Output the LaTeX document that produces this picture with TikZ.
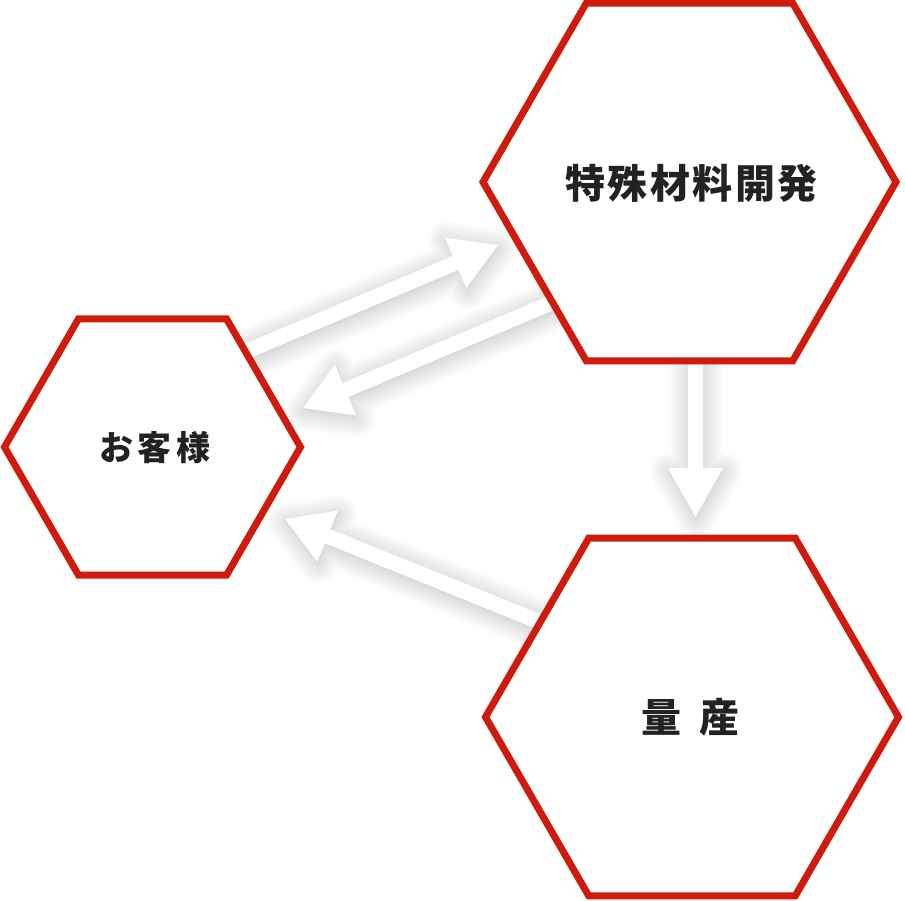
\documentclass[tikz,border=0pt]{standalone}
\usepackage{fontspec}
\newfontfamily\jpfont{Noto Sans CJK JP}
\usetikzlibrary{shapes.geometric,shadows.blur}
\definecolor{hexred}{RGB}{207,27,11}
\definecolor{txtcol}{RGB}{34,34,34}
\begin{document}
\begin{tikzpicture}[x=1pt,y=-1pt,
  hexnode/.style={regular polygon, regular polygon sides=6, draw=hexred,
    line width=7pt, fill=white, inner sep=0pt, outer sep=0pt, minimum size=#1},
  arrowshape/.style={fill=white, draw=none,
    blur shadow={shadow xshift=1pt, shadow yshift=-3pt,
      shadow blur radius=20pt, shadow blur steps=14, shadow opacity=26}},
  hextext/.style={text=txtcol, inner sep=0pt, font=\jpfont\bfseries}]
\useasboundingbox (0,0) rectangle (905,900);
% arrows (drawn first, hexagons cover their ends)
\path[arrowshape] (222.4,353.5) -- (452.7,256.0) -- (444.9,237.6) -- (498,245)
  -- (466.3,288.2) -- (458.5,269.8) -- (228.2,367.3) -- cycle;
\path[arrowshape] (582.0,281.8) -- (342.5,383.2) -- (334.7,364.8) -- (303,408)
  -- (356.1,415.4) -- (348.3,397.0) -- (587.8,295.6) -- cycle;
\path[arrowshape] (571.4,626.7) -- (330.4,529.2) -- (337.9,510.7) -- (285,519)
  -- (317.3,561.7) -- (324.8,543.2) -- (565.8,640.7) -- cycle;
\path[arrowshape] (688,340) -- (688,468) -- (668,468) -- (695.5,517)
  -- (723,468) -- (703,468) -- (703,340) -- cycle;
% hexagons
\node[hexnode=413] (dev) at (689.5,182) {};
\node[hexnode=296] (cust) at (152.5,447) {};
\node[hexnode=413] (mass) at (692,717) {};
% texts
\node[hextext, font=\jpfont\bfseries\fontsize{40}{40}\selectfont] (devt) at (691.5,183)
  {特\kern2.5pt殊\kern2.5pt材\kern2.5pt料\kern2.5pt開\kern2.5pt発};
\node[hextext, font=\jpfont\bfseries\fontsize{34}{34}\selectfont] (custt) at (155,448)
  {お\kern5pt客\kern5pt様};
\node[hextext, font=\jpfont\bfseries\fontsize{40}{40}\selectfont] (masst) at (690.5,717.5)
  {量 \kern9pt産};
\end{tikzpicture}
\end{document}
